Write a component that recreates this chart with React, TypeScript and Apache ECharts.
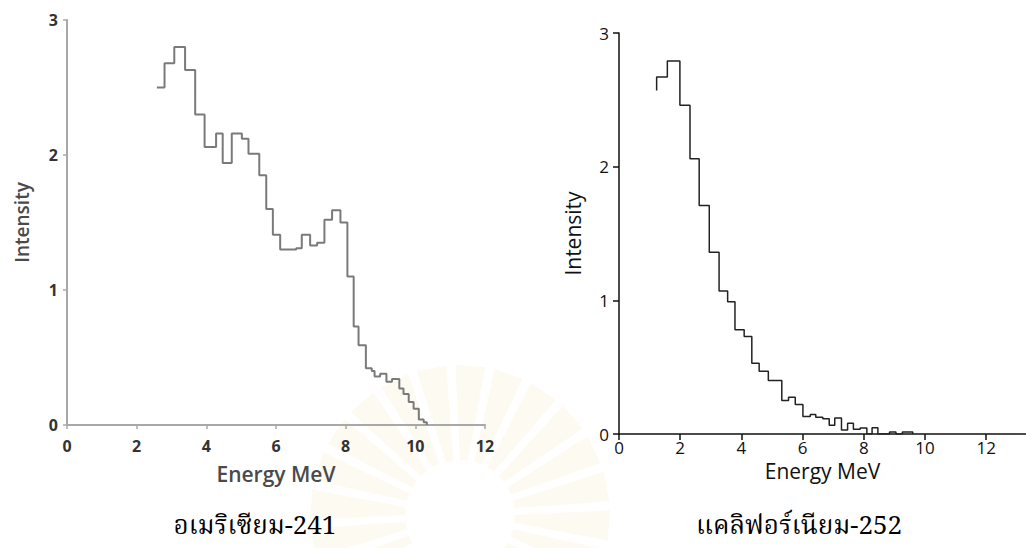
import React, { useEffect, useRef } from "react";
import * as echarts from "echarts";

// Americium-241 spectrum (bin edge MeV, intensity)
const amEdges = [2.58, 2.8, 3.08, 3.39, 3.68, 3.95, 4.28, 4.47, 4.73, 5.02, 5.21, 5.52, 5.72, 5.91, 6.12, 6.58, 6.74, 6.98, 7.18, 7.39, 7.61, 7.85, 8.05, 8.23, 8.37, 8.58, 8.75, 8.83, 8.99, 9.17, 9.33, 9.54, 9.66, 9.81, 9.95, 10.1, 10.24, 10.33];
const amValues = [2.5, 2.68, 2.8, 2.63, 2.3, 2.06, 2.16, 1.94, 2.16, 2.12, 2.01, 1.85, 1.6, 1.41, 1.3, 1.31, 1.41, 1.33, 1.35, 1.52, 1.59, 1.5, 1.1, 0.73, 0.59, 0.42, 0.4, 0.36, 0.38, 0.32, 0.34, 0.27, 0.23, 0.17, 0.12, 0.04, 0.02, 0];

// Californium-252 spectrum (bin edge MeV, intensity)
const cfEdges = [1.23, 1.23, 1.58, 1.99, 2.32, 2.62, 2.95, 3.27, 3.55, 3.79, 4.09, 4.34, 4.58, 4.88, 5.32, 5.54, 5.76, 6.01, 6.25, 6.43, 6.66, 6.87, 7.05, 7.27, 7.47, 7.66, 7.88, 8.1, 8.27, 8.46, 8.84, 9.05, 9.26, 9.6];
const cfValues = [2.57, 2.67, 2.79, 2.46, 2.06, 1.71, 1.36, 1.07, 0.99, 0.78, 0.73, 0.53, 0.47, 0.4, 0.25, 0.275, 0.22, 0.13, 0.145, 0.125, 0.115, 0.065, 0.12, 0.03, 0.08, 0.035, 0.045, 0, 0.047, 0, 0.015, 0, 0.015, 0];

const xTicks = [0, 2, 4, 6, 8, 10, 12];
const yTicks = [0, 1, 2, 3];
const xName = "Energy MeV";
const yName = "Intensity";
const captionLeft = "อเมริเซียม-241";
const captionRight = "แคลิฟอร์เนียม-252";

export default function App() {
  const ref = useRef<HTMLDivElement>(null);
  useEffect(() => {
    if (!ref.current) return;
    const chart = echarts.init(ref.current, undefined, { renderer: "svg" });

    const grey = "#a8a8a8";
    const leftLabel = { color: "#333", fontFamily: "'Open Sans', sans-serif", fontWeight: "bold" as const, fontSize: 16 };
    const rightLabel = { color: "#111", fontFamily: "'Open Sans', sans-serif", fontSize: 17 };
    const captionFont = "26px 'Noto Serif Thai', 'Norasi', 'TH Sarabun New', 'Liberation Serif', serif";

    // faint watermark rays (background decoration)
    const rays: any[] = [];
    const cx = 460, cy = 515;
    const nRays = 24;
    for (let i = 0; i < nRays; i++) {
      const a0 = (2 * Math.PI * i) / nRays;
      const a1 = a0 + 0.14;
      const r0 = 55, r1 = 150;
      rays.push({
        type: "polygon",
        silent: true,
        shape: {
          points: [
            [cx + r0 * Math.cos(a0), cy + r0 * Math.sin(a0)],
            [cx + r1 * Math.cos(a0 - 0.03), cy + r1 * Math.sin(a0 - 0.03)],
            [cx + r1 * Math.cos(a1 + 0.03), cy + r1 * Math.sin(a1 + 0.03)],
            [cx + r0 * Math.cos(a1), cy + r0 * Math.sin(a1)],
          ],
        },
        style: { fill: "#fdfaf1" },
        z: -10,
      });
    }

    chart.setOption({
      animation: false,
      backgroundColor: "#ffffff",
      grid: [
        { left: 67, top: 20, width: 418, height: 405 },
        { left: 619, top: 33, width: 407, height: 401 },
      ],
      xAxis: [
        {
          gridIndex: 0, type: "value", min: 0, max: 12, interval: 2,
          name: xName, nameLocation: "middle", nameGap: 38,
          nameTextStyle: { color: "#4a4a4a", fontFamily: "'Open Sans', sans-serif", fontWeight: 600, fontSize: 21 },
          axisLine: { lineStyle: { color: grey, width: 2 } },
          axisTick: { show: true, length: 4, lineStyle: { color: grey, width: 1.5 }, customValues: xTicks },
          axisLabel: { ...leftLabel, margin: 13, customValues: xTicks },
          splitLine: { show: false },
        },
        {
          gridIndex: 1, type: "value", min: 0, max: 13.3, interval: 2,
          name: xName, nameLocation: "middle", nameGap: 24,
          nameTextStyle: { color: "#111", fontFamily: "'Open Sans', sans-serif", fontSize: 21 },
          axisLine: { lineStyle: { color: "#111", width: 1.5 } },
          axisTick: { show: true, length: 6, lineStyle: { color: "#111", width: 1.5 }, customValues: xTicks },
          axisLabel: { ...rightLabel, margin: 5, customValues: xTicks },
          splitLine: { show: false },
        },
      ],
      yAxis: [
        {
          gridIndex: 0, type: "value", min: 0, max: 3, interval: 1,
          name: yName, nameLocation: "middle", nameGap: 36,
          nameTextStyle: { color: "#4a4a4a", fontFamily: "'Open Sans', sans-serif", fontWeight: 600, fontSize: 19 },
          axisLine: { show: true, lineStyle: { color: grey, width: 2 } },
          axisTick: { show: true, length: 4, lineStyle: { color: grey, width: 1.5 }, customValues: yTicks },
          axisLabel: { ...leftLabel, margin: 9, customValues: yTicks },
          splitLine: { show: false },
        },
        {
          gridIndex: 1, type: "value", min: 0, max: 3, interval: 1,
          name: yName, nameLocation: "middle", nameGap: 36,
          nameTextStyle: { color: "#111", fontFamily: "'Open Sans', sans-serif", fontSize: 21 },
          axisLine: { show: true, lineStyle: { color: "#111", width: 1.5 } },
          axisTick: { show: true, length: 6, lineStyle: { color: "#111", width: 1.5 }, customValues: yTicks },
          axisLabel: { ...rightLabel, margin: 10, customValues: yTicks },
          splitLine: { show: false },
        },
      ],
      series: [
        {
          type: "line", xAxisIndex: 0, yAxisIndex: 0, step: "end", symbol: "none",
          lineStyle: { color: "#7a7a7a", width: 2 },
          data: amEdges.map((x, i) => [x, amValues[i]]),
        },
        {
          type: "line", xAxisIndex: 1, yAxisIndex: 1, step: "end", symbol: "none",
          lineStyle: { color: "#222", width: 1.5 },
          data: cfEdges.map((x, i) => [x, cfValues[i]]),
        },
      ],
      graphic: [
        ...rays,
        { type: "circle", silent: true, shape: { cx, cy, r: 50 }, style: { fill: "#ffffff" }, z: -9 },
        {
          type: "text", silent: true,
          style: { text: captionLeft, x: 255, y: 527, fill: "#000", font: captionFont, textAlign: "center", textVerticalAlign: "middle" },
        },
        {
          type: "text", silent: true,
          style: { text: captionRight, x: 799, y: 527, fill: "#000", font: captionFont, textAlign: "center", textVerticalAlign: "middle" },
        },
      ],
    });
    return () => chart.dispose();
  }, []);
  return <div ref={ref} style={{ position: "fixed", left: 0, top: 0, width: 1026, height: 548 }} />;
}
